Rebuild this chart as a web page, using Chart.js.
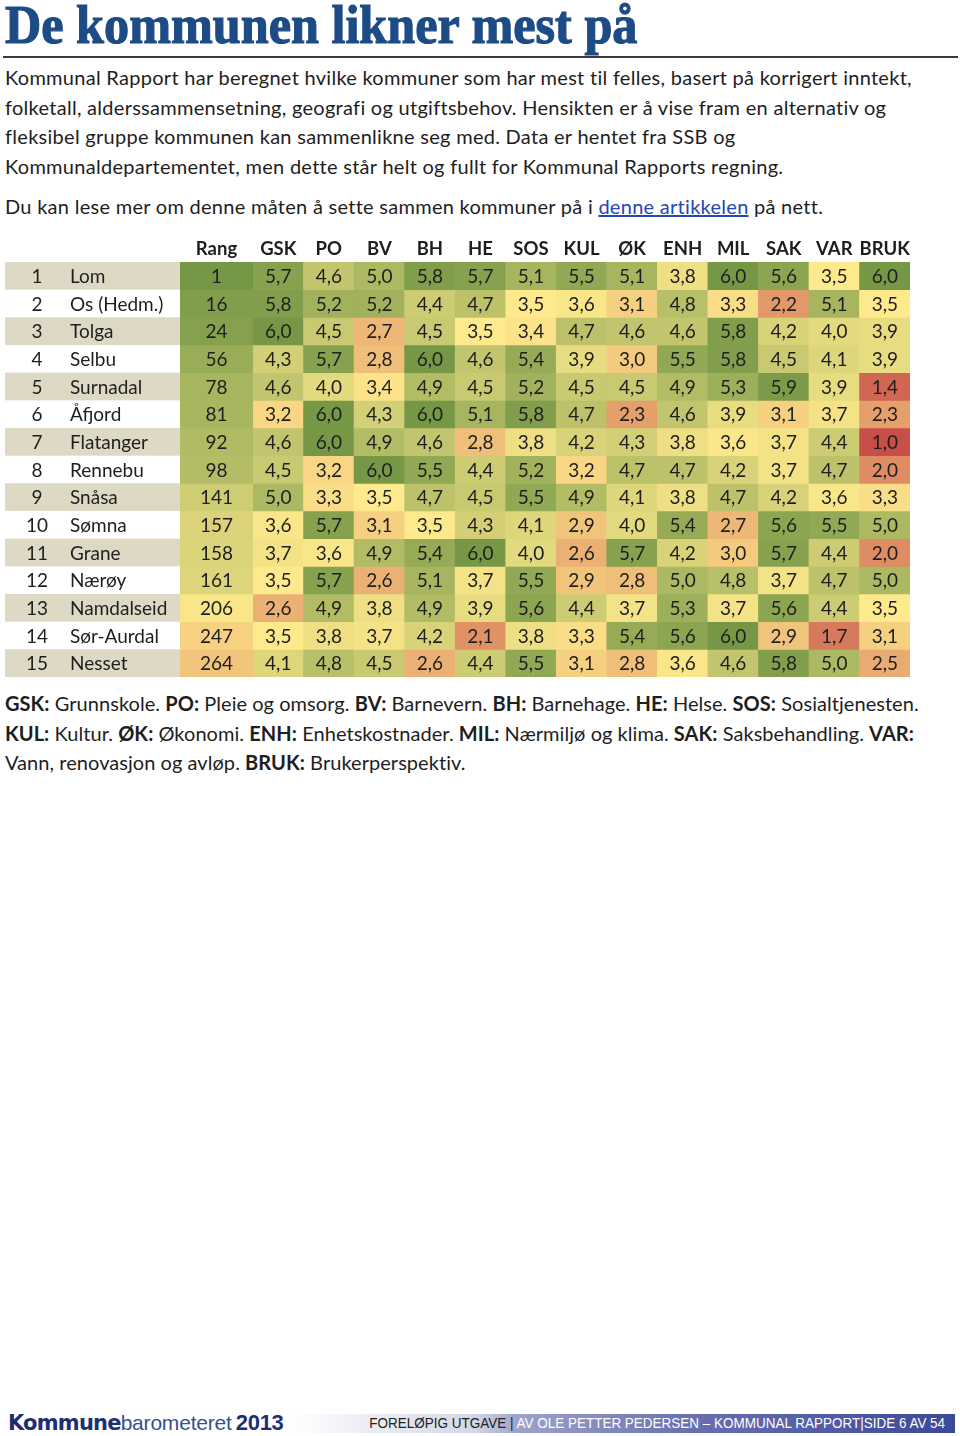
<!DOCTYPE html>
<html lang="no">
<head>
<meta charset="utf-8">
<title>De kommunen likner mest på</title>
<script src="https://cdn.jsdelivr.net/npm/chart.js@4.4.1/dist/chart.umd.min.js"></script>
<style>
    body {
        margin: 0;
        width: 960px;
        height: 1436px;
        position: relative;
        background: #fff;
        font-family: Lato, "Open Sans", sans-serif;
        color: #1e1e1e;
        overflow: hidden;
    }
    .title {
        position: absolute;
        left: 5px;
        top: -2px;
        font-family: "Liberation Serif", serif;
        font-weight: bold;
        font-size: 54px;
        line-height: 54px;
        color: #1d4b86;
        -webkit-text-stroke: 1.2px #1d4b86;
        white-space: nowrap;
        transform: scaleX(0.93);
        transform-origin: left center;
    }
    .rule {
        position: absolute;
        left: 3px;
        width: 955px;
        top: 56px;
        height: 2px;
        background: #3a3a3a;
    }
    .text {
        position: absolute;
        left: 5px;
        font-size: 20px;
        letter-spacing: 0.28px;
        line-height: 29.5px;
        white-space: nowrap;
    }
    .text.legend { letter-spacing: 0.05px; }
    .text a { color: #2447b8; text-decoration: underline; }
    .text b { font-weight: bold; }
    canvas { position: absolute; }
    .footer-brand {
        position: absolute;
        left: 8px;
        top: 1410px;
        height: 26px;
        line-height: 26px;
        white-space: nowrap;
        color: #1d2f72;
        z-index: 2;
    }
    .footer-brand .k { font-family: "DejaVu Sans", sans-serif; font-weight: bold; font-size: 21px; letter-spacing: -0.8px; }
    .footer-brand .b { font-family: "Liberation Sans", sans-serif; font-size: 21px; letter-spacing: -0.2px; color: #3a4f8c; }
    .footer-brand .y { font-family: "Liberation Sans", sans-serif; font-weight: bold; font-size: 22px; letter-spacing: -0.3px; }
    .footer-bar {
        position: absolute;
        left: 290px;
        top: 1414px;
        width: 665px;
        height: 19px;
        background: linear-gradient(to right, #ffffff 0%, #d3d6e6 28%, #9ea3cc 34%, #6a70b0 60%, #3d4897 100%);
    }
    .footer-text {
        position: absolute;
        right: 15px;
        top: 1414px;
        height: 19px;
        line-height: 19px;
        font-family: "Liberation Sans Narrow", "Liberation Sans", sans-serif;
        font-size: 14.5px;
        white-space: nowrap;
        color: #fff;
        transform: scaleX(0.93);
        transform-origin: right center;
    }
    .footer-text .dark { color: #222; }
</style>
</head>
<body>

<div class="title">De kommunen likner mest på</div>
<div class="rule"></div>

<div class="text" style="top:63px">
Kommunal Rapport har beregnet hvilke kommuner som har mest til felles, basert på korrigert inntekt,<br>
folketall, alderssammensetning, geografi og utgiftsbehov. Hensikten er å vise fram en alternativ og<br>
fleksibel gruppe kommunen kan sammenlikne seg med. Data er hentet fra SSB og<br>
Kommunaldepartementet, men dette står helt og fullt for Kommunal Rapports regning.
</div>
<div class="text" style="top:192px">
Du kan lese mer om denne måten å sette sammen kommuner på i <a href="#">denne artikkelen</a> på nett.
</div>

<canvas id="rankChart" width="253" height="446" style="left:0;top:232px"></canvas>
<canvas id="scoreChart" width="659" height="446" style="left:253px;top:232px"></canvas>

<div class="text legend" style="top:689px">
<b>GSK:</b> Grunnskole. <b>PO:</b> Pleie og omsorg. <b>BV:</b> Barnevern. <b>BH:</b> Barnehage. <b>HE:</b> Helse. <b>SOS:</b> Sosialtjenesten.<br>
<b>KUL:</b> Kultur. <b>ØK:</b> Økonomi. <b>ENH:</b> Enhetskostnader. <b>MIL:</b> Nærmiljø og klima. <b>SAK:</b> Saksbehandling. <b>VAR:</b><br>
Vann, renovasjon og avløp. <b>BRUK:</b> Brukerperspektiv.
</div>

<div class="footer-bar"></div>
<div class="footer-brand"><span class="k">Kommune</span><span class="b">barometeret</span> <span class="y">2013</span></div>
<div class="footer-text"><span class="dark">FORELØPIG UTGAVE |</span> AV OLE PETTER PEDERSEN – KOMMUNAL RAPPORT|SIDE 6 AV 54</div>

<script>
// --------------------------------------------------------------------------
// Data
// --------------------------------------------------------------------------
const municipalities = ['Lom', 'Os (Hedm.)', 'Tolga', 'Selbu', 'Surnadal', 'Åfjord', 'Flatanger',
    'Rennebu', 'Snåsa', 'Sømna', 'Grane', 'Nærøy', 'Namdalseid', 'Sør-Aurdal', 'Nesset'];

const ranks = [1, 16, 24, 56, 78, 81, 92, 98, 141, 157, 158, 161, 206, 247, 264];

const indicators = ['GSK', 'PO', 'BV', 'BH', 'HE', 'SOS', 'KUL', 'ØK', 'ENH', 'MIL', 'SAK', 'VAR', 'BRUK'];

// one row per municipality, same order as indicators
const scores = [
    [5.7, 4.6, 5.0, 5.8, 5.7, 5.1, 5.5, 5.1, 3.8, 6.0, 5.6, 3.5, 6.0],
    [5.8, 5.2, 5.2, 4.4, 4.7, 3.5, 3.6, 3.1, 4.8, 3.3, 2.2, 5.1, 3.5],
    [6.0, 4.5, 2.7, 4.5, 3.5, 3.4, 4.7, 4.6, 4.6, 5.8, 4.2, 4.0, 3.9],
    [4.3, 5.7, 2.8, 6.0, 4.6, 5.4, 3.9, 3.0, 5.5, 5.8, 4.5, 4.1, 3.9],
    [4.6, 4.0, 3.4, 4.9, 4.5, 5.2, 4.5, 4.5, 4.9, 5.3, 5.9, 3.9, 1.4],
    [3.2, 6.0, 4.3, 6.0, 5.1, 5.8, 4.7, 2.3, 4.6, 3.9, 3.1, 3.7, 2.3],
    [4.6, 6.0, 4.9, 4.6, 2.8, 3.8, 4.2, 4.3, 3.8, 3.6, 3.7, 4.4, 1.0],
    [4.5, 3.2, 6.0, 5.5, 4.4, 5.2, 3.2, 4.7, 4.7, 4.2, 3.7, 4.7, 2.0],
    [5.0, 3.3, 3.5, 4.7, 4.5, 5.5, 4.9, 4.1, 3.8, 4.7, 4.2, 3.6, 3.3],
    [3.6, 5.7, 3.1, 3.5, 4.3, 4.1, 2.9, 4.0, 5.4, 2.7, 5.6, 5.5, 5.0],
    [3.7, 3.6, 4.9, 5.4, 6.0, 4.0, 2.6, 5.7, 4.2, 3.0, 5.7, 4.4, 2.0],
    [3.5, 5.7, 2.6, 5.1, 3.7, 5.5, 2.9, 2.8, 5.0, 4.8, 3.7, 4.7, 5.0],
    [2.6, 4.9, 3.8, 4.9, 3.9, 5.6, 4.4, 3.7, 5.3, 3.7, 5.6, 4.4, 3.5],
    [3.5, 3.8, 3.7, 4.2, 2.1, 3.8, 3.3, 5.4, 5.6, 6.0, 2.9, 1.7, 3.1],
    [4.1, 4.8, 4.5, 2.6, 4.4, 5.5, 3.1, 2.8, 3.6, 4.6, 5.8, 5.0, 2.5]
];

// --------------------------------------------------------------------------
// Colour scale (red - yellow - green)
// --------------------------------------------------------------------------
const RED = [200, 78, 72];
const YELLOW = [254, 233, 140];
const GREEN = [118, 152, 70];

function mix(a, b, t) {
    const c = a.map((v, i) => Math.round(v + (b[i] - v) * t));
    return `rgb(${c[0]}, ${c[1]}, ${c[2]})`;
}

function scoreColor(v) {
    if (v >= 3.5) return mix(YELLOW, GREEN, Math.min(1, (v - 3.5) / 2.5));
    return mix(YELLOW, RED, Math.min(1, (3.5 - v) / 2.5));
}

function rankColor(r) {
    if (r <= 214) return mix(YELLOW, GREEN, (214 - r) / 213);
    return mix(YELLOW, RED, Math.min(1, (r - 214) / 214));
}

const fmt = v => v.toFixed(1).replace('.', ',');

// --------------------------------------------------------------------------
// Plugins
// --------------------------------------------------------------------------
const CELL_FONT = '19px Lato, "Open Sans", sans-serif';

const cellText = {
    id: 'cellText',
    afterDatasetsDraw(chart) {
        const ctx = chart.ctx;
        ctx.save();
        ctx.font = CELL_FONT;
        ctx.fillStyle = '#1e1e1e';
        ctx.textAlign = 'center';
        ctx.textBaseline = 'middle';
        chart.data.datasets.forEach((ds, i) => {
            chart.getDatasetMeta(i).data.forEach((bar, j) => {
                ctx.fillText(ds.cellLabels[j], bar.x, (bar.y + bar.base) / 2 + 1);
            });
        });
        ctx.restore();
    }
};

// number + name column, left of the rank column
const rowLabels = {
    id: 'rowLabels',
    beforeDatasetsDraw(chart) {
        const ctx = chart.ctx;
        const left = 5;
        const right = chart.chartArea.left;
        ctx.save();
        ctx.font = CELL_FONT;
        ctx.textBaseline = 'middle';
        chart.data.datasets.forEach((ds, i) => {
            const bar = chart.getDatasetMeta(i).data[0];
            const top = Math.min(bar.y, bar.base);
            const h = Math.abs(bar.base - bar.y);
            if (i % 2 === 0) {
                ctx.fillStyle = '#ddd9c4';
                ctx.fillRect(left, top, right - left, h);
            }
            ctx.fillStyle = '#1e1e1e';
            ctx.textAlign = 'center';
            ctx.fillText(String(i + 1), 37, top + h / 2 + 1);
            ctx.textAlign = 'left';
            ctx.fillText(ds.label, 70, top + h / 2 + 1);
        });
        ctx.restore();
    }
};

// --------------------------------------------------------------------------
// Chart factory
// --------------------------------------------------------------------------
function heatOptions(leftPad) {
    return {
        responsive: false,
        devicePixelRatio: 1,
        animation: false,
        layout: { padding: { left: leftPad, right: 0, top: 0, bottom: 1 } },
        plugins: {
            legend: { display: false },
            tooltip: { enabled: false }
        },
        datasets: {
            bar: { barPercentage: 1, categoryPercentage: 1, borderWidth: 0 }
        },
        scales: {
            x: {
                position: 'top',
                stacked: true,
                grid: { display: false, drawTicks: false },
                border: { display: false },
                ticks: {
                    color: '#1e1e1e',
                    padding: 2,
                    maxRotation: 0,
                    autoSkip: false,
                    font: { family: 'Lato, "Open Sans", sans-serif', size: 18.5, weight: 'bold' }
                },
                afterFit: scale => { scale.height = 30; }
            },
            y: {
                stacked: true,
                reverse: true,
                min: 0,
                max: municipalities.length,
                display: false
            }
        }
    };
}

// each municipality is one stacked row of unit-height cells
new Chart(document.getElementById('rankChart'), {
    type: 'bar',
    data: {
        labels: ['Rang'],
        datasets: municipalities.map((name, i) => ({
            label: name,
            data: [1],
            cellLabels: [String(ranks[i])],
            backgroundColor: [rankColor(ranks[i])]
        }))
    },
    options: heatOptions(180),
    plugins: [rowLabels, cellText]
});

new Chart(document.getElementById('scoreChart'), {
    type: 'bar',
    data: {
        labels: indicators,
        datasets: municipalities.map((name, i) => ({
            label: name,
            data: indicators.map(() => 1),
            cellLabels: scores[i].map(fmt),
            backgroundColor: scores[i].map(scoreColor)
        }))
    },
    options: heatOptions(0),
    plugins: [cellText]
});
</script>
</body>
</html>
